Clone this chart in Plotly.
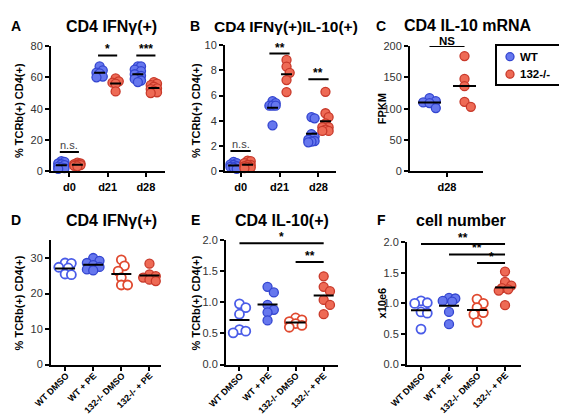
import numpy as np
import plotly.graph_objects as go

W, H = 567, 415
FONT = "Liberation Sans, Arial, sans-serif"

# ---------------- data ----------------
# Panel A: CD4 IFNγ(+)  (% TCRb(+) CD4(+))
a_days = ["d0", "d21", "d28"]
a_wt_d0 = [6.5, 6.0, 5.0, 4.5, 4.0, 3.0, 2.5, 2.0, 1.5]
a_wt_d21 = [67.0, 64.5, 63.0, 62.5, 60.5, 60.0]
a_wt_d28 = [67.0, 67.0, 65.0, 64.0, 62.0, 61.0, 60.0, 59.0, 58.0, 57.0]
a_ko_d0 = [5.5, 5.0, 4.5, 4.2, 4.0, 3.5, 3.2]
a_ko_d21 = [59.3, 57.5, 56.6, 56.0, 51.0]
a_ko_d28 = [57.0, 56.0, 55.0, 54.0, 53.0, 52.5, 51.5, 50.5, 50.0]
a_sig = ["n.s.", "*", "***"]

# Panel B: CD4 IFNγ(+)IL-10(+)
b_wt_d0 = [0.75, 0.65, 0.55, 0.5, 0.4, 0.35, 0.3, 0.2]
b_wt_d21 = [5.56, 5.4, 5.2, 5.2, 5.2, 3.64]
b_wt_d28 = [4.3, 4.2, 2.95, 2.75, 2.5, 2.4, 2.35, 2.3]
b_ko_d0 = [0.85, 0.8, 0.65, 0.5, 0.5, 0.4, 0.35, 0.3, 0.25]
b_ko_d21 = [8.82, 8.3, 7.8, 7.23, 6.28]
b_ko_d28 = [6.3, 4.6, 4.3, 3.8, 3.5, 3.5, 3.3, 3.2, 3.2]
b_sig = ["n.s.", "**", "**"]

# Panel C: CD4 IL-10 mRNA (FPKM)
c_day = ["d28"]
c_wt = [117.0, 112.0, 110.0, 109.0, 101.0]
c_ko = [184.0, 147.5, 136.0, 111.0, 103.0]
c_sig = "NS"
legend_names = ["WT", "132-/-"]

# Panels D-F groups
g_labels = ["WT DMSO", "WT + PE", "132-/- DMSO", "132-/- + PE"]
# Panel D: CD4 IFNγ(+)
d_wt_dmso = [28.6, 28.5, 27.4, 27.2, 25.5, 25.3]
d_wt_pe = [30.0, 29.2, 28.6, 28.0, 27.5, 26.8, 26.5]
d_ko_dmso = [29.5, 27.8, 26.3, 24.5, 22.4, 22.4]
d_ko_pe = [28.4, 25.4, 24.9, 24.5, 23.9, 23.5]
# Panel E: CD4 IL-10(+)
e_wt_dmso = [0.977, 0.915, 0.81, 0.563, 0.537, 0.51]
e_wt_pe = [1.25, 1.16, 0.96, 0.88, 0.84, 0.71]
e_ko_dmso = [0.75, 0.72, 0.69, 0.66, 0.63, 0.60]
e_ko_pe = [1.42, 1.25, 1.18, 1.04, 0.96, 0.81]
e_sig = [(0, 3, 1.95, "*"), (2, 3, 1.65, "**")]
# Panel F: cell number (x10e6)
f_wt_dmso = [1.04, 1.01, 1.0, 0.86, 0.84, 0.58]
f_wt_pe = [1.09, 1.08, 1.04, 1.03, 0.86, 0.66]
f_ko_dmso = [1.07, 1.0, 0.93, 0.85, 0.82, 0.69]
f_ko_pe = [1.52, 1.35, 1.29, 1.25, 1.23, 1.21, 0.97]
f_sig = [(0, 3, 1.97, "**"), (1, 3, 1.80, "**"), (2, 3, 1.66, "*")]

# ---------------- style ----------------
BLUE_F, BLUE_L = "#6677ee", "#3345d0"
RED_F, RED_L = "#ee6a55", "#c8392a"
OPEN_B, OPEN_R = "#4a5ce8", "#e0492f"

# panel layout in pixels: (x0, x1), (ytop, ybottom), x range, y range
P = {
    1: dict(xp=(43, 157), yp=(33, 162), xr=(-0.48, 2.5), yr=(0, 80), yt=[0, 20, 40, 60, 80]),
    2: dict(xp=(217, 328), yp=(32, 162), xr=(-0.4, 2.45), yr=(0, 10), yt=[0, 2, 4, 6, 8, 10]),
    3: dict(xp=(402, 475), yp=(33, 162), xr=(-0.507, 0.493), yr=(0, 200), yt=[0, 50, 100, 150, 200]),
    4: dict(xp=(43, 153), yp=(233, 361), xr=(-0.5, 3.41), yr=(0, 35), yt=[0, 10, 20, 30]),
    5: dict(xp=(218, 330), yp=(233, 361), xr=(-0.48, 3.51), yr=(0, 2.0), yt=[0, 0.5, 1.0, 1.5, 2.0]),
    6: dict(xp=(399, 513), yp=(235, 361), xr=(-0.5, 3.57), yr=(0, 2.0), yt=[0, 0.5, 1.0, 1.5, 2.0]),
}
for k, p in P.items():
    p["xppu"] = (p["xp"][1] - p["xp"][0]) / (p["xr"][1] - p["xr"][0])
    p["yppu"] = (p["yp"][1] - p["yp"][0]) / (p["yr"][1] - p["yr"][0])

fig = go.Figure()
annotations = []
shapes = []
DIAM = 9

# Arial-bold advance widths (per em) for estimating rotated label length
BOLD_W = {"W": .944, "T": .611, " ": .278, "D": .722, "M": .833, "S": .667, "O": .778,
          "+": .584, "P": .667, "E": .667, "1": .556, "3": .556, "2": .556, "-": .333, "/": .278}


def swarm(vals, yppu, d, cap):
    """deterministic beeswarm offsets (pixels), limited to +-cap"""
    vals = np.asarray(vals, dtype=float)
    order = np.argsort(-vals, kind="stable")
    placed = []
    offs = np.zeros(len(vals))
    step = d * 0.35
    cands = [0.0]
    j = 1
    while j * step <= cap + 1e-9:
        cands += [j * step, -j * step]
        j += 1
    for i in order:
        y = vals[i] * yppu
        best, bestd = 0.0, -1.0
        for c in cands:
            md = min([np.hypot(c - px, y - py) for px, py in placed] or [1e9])
            if md >= d * 0.75:
                best = c
                break
            if md > bestd:
                best, bestd = c, md
        placed.append((best, y))
        offs[i] = best
    return offs


def ax(k):
    return ("x" if k == 1 else f"x{k}"), ("y" if k == 1 else f"y{k}")


def add_group(k, center, vals, fill, line, lw, off_px, halfw, cap):
    p = P[k]
    xa, ya = ax(k)
    offs = swarm(vals, p["yppu"], DIAM, cap)
    xs = center + (off_px + offs) / p["xppu"]
    fig.add_trace(go.Scatter(
        x=xs, y=vals, mode="markers", xaxis=xa, yaxis=ya, cliponaxis=False,
        marker=dict(size=DIAM, color=fill, line=dict(color=line, width=lw)),
        showlegend=False, hoverinfo="skip"))
    m = float(np.mean(vals))
    fig.add_trace(go.Scatter(
        x=[center + (off_px - halfw) / p["xppu"], center + (off_px + halfw) / p["xppu"]],
        y=[m, m], mode="lines", xaxis=xa, yaxis=ya, cliponaxis=False,
        line=dict(color="black", width=2), showlegend=False, hoverinfo="skip"))


def add_bracket(k, x0, x1, yv, label, size=12, yshift=-2):
    xa, ya = ax(k)
    fig.add_trace(go.Scatter(
        x=[x0, x1], y=[yv, yv], mode="lines", xaxis=xa, yaxis=ya, cliponaxis=False,
        line=dict(color="black", width=2), showlegend=False, hoverinfo="skip"))
    ns = label.lower() == "n.s."
    annotations.append(dict(
        x=(x0 + x1) / 2, y=yv, xref=xa, yref=ya, text=label if ns else f"<b>{label}</b>",
        showarrow=False, yanchor="bottom", xanchor="center", yshift=0 if ns else yshift,
        borderpad=0,
        font=dict(family=FONT, size=11 if ns else size, color="#444" if ns else "black")))


# Panel A
for i, (w, r) in enumerate(zip([a_wt_d0, a_wt_d21, a_wt_d28], [a_ko_d0, a_ko_d21, a_ko_d28])):
    add_group(1, i, w, BLUE_F, BLUE_L, 1.3, -8, 5.5, 6)
    add_group(1, i, r, RED_F, RED_L, 1.3, 8, 5.5, 6)
for i, (yv, s) in enumerate(zip([12.4, 74, 74], a_sig)):
    add_bracket(1, i - 0.25, i + 0.25, yv, s)

# Panel B
for i, (w, r) in enumerate(zip([b_wt_d0, b_wt_d21, b_wt_d28], [b_ko_d0, b_ko_d21, b_ko_d28])):
    add_group(2, i, w, BLUE_F, BLUE_L, 1.3, -7, 5.5, 6)
    add_group(2, i, r, RED_F, RED_L, 1.3, 7, 5.5, 6)
for i, (yv, s) in enumerate(zip([1.6, 9.33, 7.3], b_sig)):
    add_bracket(2, i - 0.26, i + 0.26, yv, s)

# Panel C
add_group(3, 0, c_wt, BLUE_F, BLUE_L, 1.3, -17.5, 11.5, 7)
add_group(3, 0, c_ko, RED_F, RED_L, 1.3, 17.5, 11.5, 7)
add_bracket(3, -0.24, 0.24, 200, c_sig, size=11.5, yshift=-1.5)

# Panels D-F
LAB_SIZE = 9
for k, groups, sig in [(4, [d_wt_dmso, d_wt_pe, d_ko_dmso, d_ko_pe], []),
                       (5, [e_wt_dmso, e_wt_pe, e_ko_dmso, e_ko_pe], e_sig),
                       (6, [f_wt_dmso, f_wt_pe, f_ko_dmso, f_ko_pe], f_sig)]:
    add_group(k, 0, groups[0], "white", OPEN_B, 1.8, 0, 10, 8)
    add_group(k, 1, groups[1], BLUE_F, BLUE_L, 1.3, 0, 10, 8)
    add_group(k, 2, groups[2], "white", OPEN_R, 1.8, 0, 10, 8)
    add_group(k, 3, groups[3], RED_F, RED_L, 1.3, 0, 10, 8)
    for g0, g1, yv, s in sig:
        add_bracket(k, g0, g1, yv, s)
    # rotated category labels: text end sits just below-right of each tick
    xa, ya = ax(k)
    for i, lab in enumerate(g_labels):
        L = sum(BOLD_W.get(ch, .6) for ch in lab) * LAB_SIZE
        h = 0.3536 * L
        annotations.append(dict(
            x=i, xref=xa, y=1 - 371 / H, yref="paper", text=f"<b>{lab}</b>",
            textangle=-45, xanchor="center", yanchor="middle",
            xshift=2 - h, yshift=-h, showarrow=False,
            font=dict(family=FONT, size=LAB_SIZE, color="black")))

# ---------------- axes ----------------
layout = {}
for k, p in P.items():
    xname = "xaxis" if k == 1 else f"xaxis{k}"
    yname = "yaxis" if k == 1 else f"yaxis{k}"
    xa, ya = ax(k)
    if k <= 2:
        tv, tt = list(range(3)), a_days
    elif k == 3:
        tv, tt = [0], c_day
    else:
        tv, tt = list(range(4)), g_labels
    layout[xname] = dict(
        domain=[p["xp"][0] / W, p["xp"][1] / W], range=list(p["xr"]), anchor=ya,
        showline=True, linecolor="black", linewidth=2, ticks="outside", ticklen=4,
        tickwidth=2, tickcolor="black", tickvals=tv, ticktext=tt,
        showticklabels=k <= 3,
        tickfont=dict(family=FONT, size=11, color="black", weight="bold"),
        showgrid=False, zeroline=False, fixedrange=True)
    layout[yname] = dict(
        domain=[1 - p["yp"][1] / H, 1 - p["yp"][0] / H], range=list(p["yr"]), anchor=xa,
        showline=True, linecolor="black", linewidth=2, ticks="outside", ticklen=4,
        tickwidth=2, tickcolor="black", tickvals=p["yt"],
        tickformat=".1f" if k in (5, 6) else "d",
        tickfont=dict(family=FONT, size=11, color="#333"),
        showgrid=False, zeroline=False, fixedrange=True)

# ---------------- legend (panel C) ----------------
LEG = dict(x0=488, x1=563, y0=32, y1=73, mx=502, my=[44, 62], tx=510)
layout["xaxis7"] = dict(domain=[LEG["x0"] / W, LEG["x1"] / W], range=[LEG["x0"], LEG["x1"]],
                        visible=False, anchor="y7", fixedrange=True)
layout["yaxis7"] = dict(domain=[1 - LEG["y1"] / H, 1 - LEG["y0"] / H], range=[LEG["y1"], LEG["y0"]],
                        visible=False, anchor="x7", fixedrange=True)
shapes.append(dict(type="rect", xref="paper", yref="paper",
                   x0=LEG["x0"] / W, x1=LEG["x1"] / W, y0=1 - LEG["y1"] / H, y1=1 - LEG["y0"] / H,
                   line=dict(color="black", width=2), fillcolor="white", layer="below"))
fig.add_trace(go.Scatter(
    x=[LEG["mx"]] * 2, y=LEG["my"], mode="markers", xaxis="x7", yaxis="y7", cliponaxis=False,
    marker=dict(size=8, color=[BLUE_F, RED_F], line=dict(color=[BLUE_L, RED_L], width=1.3)),
    showlegend=False, hoverinfo="skip"))
for name, yy in zip(legend_names, LEG["my"]):
    annotations.append(dict(x=LEG["tx"] / W, y=1 - yy / H, xref="paper", yref="paper",
                            text=f"<b>{name}</b>", showarrow=False, xanchor="left", yanchor="middle",
                            font=dict(family=FONT, size=11.5, color="black")))


def pa(x, y, text, size, angle=0, xanchor="center"):
    annotations.append(dict(x=x / W, y=1 - y / H, xref="paper", yref="paper", text=text,
                            showarrow=False, textangle=angle, xanchor=xanchor, yanchor="middle",
                            borderpad=0, font=dict(family=FONT, size=size, color="black")))


# titles
pa(103, 12.5, "<b>CD4 IFNγ(+)</b>", 16)
pa(278, 12.5, "<b>CD4 IFNγ(+)IL-10(+)</b>", 15.5)
pa(460, 11.5, "<b>CD4 IL-10 mRNA</b>", 16)
pa(103, 212.5, "<b>CD4 IFNγ(+)</b>", 16)
pa(274, 212.5, "<b>CD4 IL-10(+)</b>", 16)
pa(453, 212.5, "<b>cell number</b>", 16)
# panel letters
for x, y, t in [(8, 12, "A"), (187, 12, "B"), (373, 12, "C"),
                (8, 212, "D"), (187, 212, "E"), (373, 212, "F")]:
    pa(x, y, f"<b>{t}</b>", 14)
# y titles
pa(11, 100, "<b>% TCRb(+) CD4(+)</b>", 11, -90)
pa(188, 100, "<b>% TCRb(+) CD4(+)</b>", 11, -90)
pa(374, 98, "<b>FPKM</b>", 11, -90)
pa(11, 298, "<b>% TCRb(+) CD4(+)</b>", 11, -90)
pa(188, 298, "<b>% TCRb(+) CD4(+)</b>", 11, -90)
pa(374, 298, "<b>x10e6</b>", 11, -90)

fig.update_layout(
    width=W, height=H, margin=dict(l=0, r=0, t=0, b=0),
    paper_bgcolor="white", plot_bgcolor="white",
    font=dict(family=FONT),
    annotations=annotations, shapes=shapes, showlegend=False,
    **layout)

fig.write_html("out.html")
